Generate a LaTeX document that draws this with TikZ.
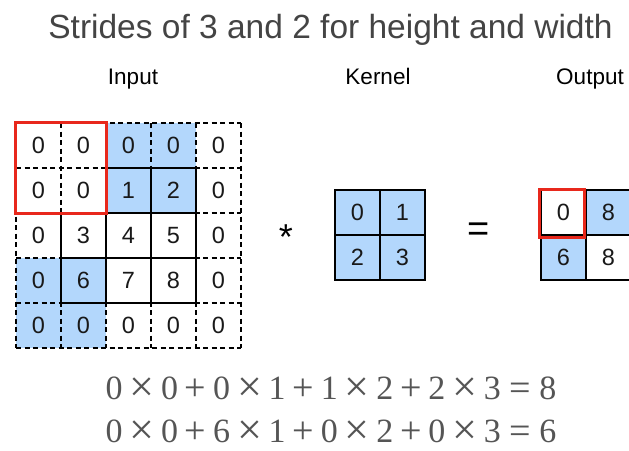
\documentclass[tikz,border=0pt]{standalone}
\usepackage{fontspec}
\setmainfont{Liberation Sans}
\newfontfamily\eqfont{Liberation Serif}
\definecolor{cellblue}{RGB}{179,215,252}
\definecolor{boxred}{RGB}{232,40,28}
\definecolor{titlegray}{RGB}{68,68,68}
\definecolor{eqgray}{RGB}{85,85,85}
\newcommand\tms{\hspace{0.2em}\raisebox{-0.07em}{\scalebox{1.3}{×}}\hspace{0.2em}}
\newcommand\pls{\hspace{0.2em}\raisebox{-0.03em}{\scalebox{1.12}{+}}\hspace{0.2em}}
\newcommand\eqs{\hspace{0.25em}\raisebox{-0.03em}{\scalebox{1.12}{=}}\hspace{0.25em}}
\begin{document}
\begin{tikzpicture}[x=1pt,y=-1pt,
  cellnode/.style={minimum size=45pt,inner sep=0pt,font=\fontsize{23.5}{27}\selectfont,text=black!90},
  solidcell/.style={cellnode,draw=black,line width=1.8pt},
  padline/.style={black,line width=1.8pt,dash pattern=on 5pt off 3.5pt},
  redbox/.style={draw=boxred,line width=3pt},
  lbl/.style={font=\fontsize{22.5}{26}\selectfont,anchor=base},
  eqtext/.style={font=\eqfont\fontsize{34}{38}\selectfont,text=eqgray,anchor=base,inner sep=1pt}]
\clip (0,0) rectangle (629,450);
\fill[white] (0,0) rectangle (629,450);
% title and labels
\node[font=\fontsize{33.5}{40}\selectfont,text=titlegray,anchor=base] (title) at (330.5,38.5) {Strides of 3 and 2 for height and width};
\node[lbl] (linput) at (133,84) {Input};
\node[lbl] (lkernel) at (378,84) {Kernel};
\node[lbl] (loutput) at (590,84) {Output};
% input cells (fills and numbers)
\foreach \r/\c/\v/\f in {0/0/0/white,0/1/0/white,0/2/0/cellblue,0/3/0/cellblue,0/4/0/white,
  1/0/0/white,1/1/0/white,1/2/1/cellblue,1/3/2/cellblue,1/4/0/white,
  2/0/0/white,2/1/3/white,2/2/4/white,2/3/5/white,2/4/0/white,
  3/0/0/cellblue,3/1/6/cellblue,3/2/7/white,3/3/8/white,3/4/0/white,
  4/0/0/cellblue,4/1/0/cellblue,4/2/0/white,4/3/0/white,4/4/0/white}
  \node[cellnode,fill=\f] (in-\r-\c) at ({16+45*\c+22.5},{123+45*\r+22.5}) {\v};
% dashed padding grid
\foreach \i in {0,...,5}{
  \draw[padline] (16,{123+45*\i}) -- (241,{123+45*\i});
  \draw[padline] ({16+45*\i},123) -- ({16+45*\i},348);
}
% solid input cells
\foreach \r/\c in {1/2,1/3,2/1,2/2,2/3,3/1,3/2,3/3}
  \draw[black,line width=1.8pt] (in-\r-\c.north west) rectangle (in-\r-\c.south east);
\draw[redbox] (in-0-0.north west) rectangle (in-1-1.south east);
% operator
\node[font=\fontsize{36}{40}\selectfont] (star) at (286,237) {*};
% kernel
\node[solidcell,fill=cellblue] (k-0-0) at (357.5,212.5) {0};
\node[solidcell,fill=cellblue] (k-0-1) at (402.5,212.5) {1};
\node[solidcell,fill=cellblue] (k-1-0) at (357.5,257.5) {2};
\node[solidcell,fill=cellblue] (k-1-1) at (402.5,257.5) {3};
\node[font=\fontsize{38}{40}\selectfont] (eqsign) at (479,232) {=};
% output
\node[solidcell,fill=white] (o-0-0) at (563.5,212.5) {0};
\node[solidcell,fill=cellblue] (o-0-1) at (608.5,212.5) {8};
\node[solidcell,fill=cellblue] (o-1-0) at (563.5,257.5) {6};
\node[solidcell,fill=white] (o-1-1) at (608.5,257.5) {8};
\draw[redbox] (539,189) rectangle (584,237);
% equations
\node[eqtext] (eq1) at (331,399) {0\tms0\pls0\tms1\pls1\tms2\pls2\tms3\eqs8};
\node[eqtext] (eq2) at (331,442) {0\tms0\pls6\tms1\pls0\tms2\pls0\tms3\eqs6};
\end{tikzpicture}
\end{document}
